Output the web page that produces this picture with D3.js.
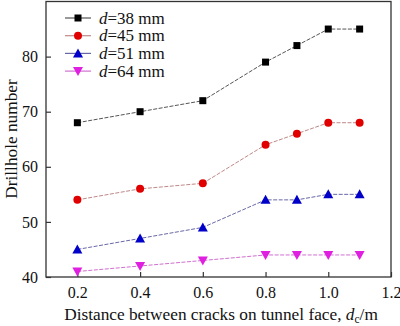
<!DOCTYPE html>
<html><head><meta charset="utf-8">
<script src="https://cdn.jsdelivr.net/npm/d3@7"></script>
<style>body{margin:0;background:#fff}svg{display:block}text{font-family:"Liberation Serif","Times New Roman",serif;fill:#111}</style>
</head><body><svg id="c" width="400" height="326"></svg>
<script>
const xValues = [0.2, 0.4, 0.6, 0.8, 0.9, 1.0, 1.1];
const seriesNames = ["38", "45", "51", "64"];
const d38 = [68, 70, 72, 79, 82, 85, 85];
const d45 = [54, 56, 57, 64, 66, 68, 68];
const d51 = [45, 47, 49, 54, 54, 55, 55];
const d64 = [41, 42, 43, 44, 44, 44, 44];
const xTicks = [0.2, 0.4, 0.6, 0.8, 1.0, 1.2];
const yTicks = [40, 50, 60, 70, 80];

const series = [
  {name: seriesNames[0], values: d38, marker: "square", fill: "#000", line: "#555"},
  {name: seriesNames[1], values: d45, marker: "circle", fill: "#e00000", line: "#c08888"},
  {name: seriesNames[2], values: d51, marker: "triangle", fill: "#0000c8", line: "#6868a8"},
  {name: seriesNames[3], values: d64, marker: "triangle-down", fill: "#e020e0", line: "#d070d0"}
];

const svg = d3.select("#c");
const L = 46, R = 391, T = 1.5, B = 277;
const x = d3.scaleLinear().domain([0.1, 1.2]).range([L, R]);
const y = d3.scaleLinear().domain([40, 90]).range([B, T]);

// frame
svg.append("rect").attr("x", L).attr("y", T).attr("width", R - L).attr("height", B - T)
  .attr("fill", "none").attr("stroke", "#333").attr("stroke-width", 1.3);

const xAxis = svg.append("g").attr("transform", `translate(0,${B})`)
  .call(d3.axisBottom(x).tickValues(xTicks).tickFormat(d3.format(".1f")).tickSizeInner(-5).tickSizeOuter(0).tickPadding(10));
const yAxis = svg.append("g").attr("transform", `translate(${L},0)`)
  .call(d3.axisLeft(y).tickValues(yTicks).tickFormat(d3.format("d")).tickSizeInner(-5).tickSizeOuter(0).tickPadding(8));
[xAxis, yAxis].forEach(a => {
  a.select(".domain").remove();
  a.selectAll("line").attr("stroke", "#333").attr("stroke-width", 1.2);
  a.selectAll("text").attr("font-size", 16).attr("font-family", "Liberation Serif, serif").attr("fill", "#111");
});

function marker(g, type, cx, cy, fill) {
  if (type === "square") g.append("rect").attr("x", cx - 3.5).attr("y", cy - 3.5).attr("width", 7).attr("height", 7).attr("fill", fill);
  else if (type === "circle") g.append("circle").attr("cx", cx).attr("cy", cy).attr("r", 4).attr("fill", fill);
  else if (type === "triangle") g.append("path").attr("d", `M${cx},${cy - 5}L${cx + 5},${cy + 4}L${cx - 5},${cy + 4}Z`).attr("fill", fill);
  else g.append("path").attr("d", `M${cx},${cy + 5}L${cx + 5},${cy - 4}L${cx - 5},${cy - 4}Z`).attr("fill", fill);
}

const line = d3.line().x((d, i) => x(xValues[i])).y(d => y(d));
series.forEach(s => {
  svg.append("path").datum(s.values).attr("d", line).attr("fill", "none")
    .attr("stroke", s.line).attr("stroke-width", 1).attr("stroke-dasharray", "4,1.5");
  const g = svg.append("g");
  s.values.forEach((v, i) => marker(g, s.marker, x(xValues[i]), y(v), s.fill));
});

// legend
series.forEach((s, i) => {
  const ly = 18 + i * 17.7;
  svg.append("line").attr("x1", 65).attr("x2", 91).attr("y1", ly).attr("y2", ly).attr("stroke", s.line).attr("stroke-width", 1.2);
  marker(svg.append("g"), s.marker, 78, ly, s.fill);
  const t = svg.append("text").attr("x", 99).attr("y", ly + 5.5).attr("font-size", 17);
  t.append("tspan").attr("font-style", "italic").text("d");
  t.append("tspan").text(`=${s.name} mm`);
});

// axis titles
const xt = svg.append("text").attr("x", 221).attr("y", 320).attr("text-anchor", "middle").attr("font-size", 17.3);
xt.append("tspan").text("Distance between cracks on tunnel face, ");
xt.append("tspan").attr("font-style", "italic").text("d");
xt.append("tspan").attr("font-size", 11.5).attr("dy", 3).text("c");
xt.append("tspan").attr("dy", -3).text("/m");

svg.append("text").attr("transform", "translate(17,139) rotate(-90)").attr("text-anchor", "middle")
  .attr("font-size", 17.3).text("Drillhole number");
</script></body></html>
